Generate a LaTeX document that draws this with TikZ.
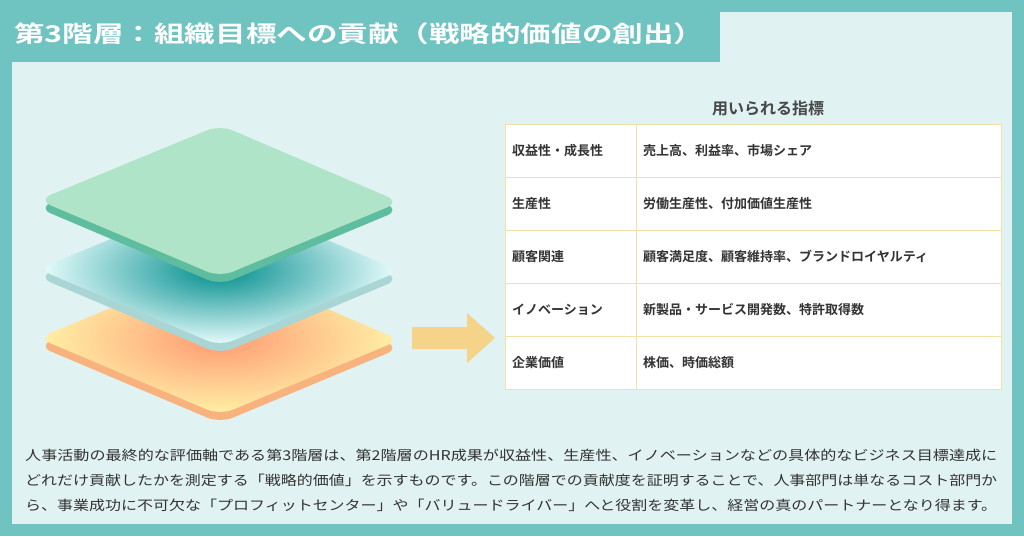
\documentclass[tikz,border=0pt]{standalone}
\usepackage{fontspec}
\usepackage{graphicx}
\newfontfamily\jp{Noto Sans CJK JP}
\newfontfamily\jpb{Noto Sans CJK JP Bold}
\definecolor{teal1}{HTML}{6FC3C1}
\definecolor{panel}{HTML}{E0F2F1}
\definecolor{tline}{HTML}{F5DFA8}
\definecolor{txt}{HTML}{333333}
\definecolor{arrowc}{HTML}{F5D48A}
\definecolor{gtop}{HTML}{B0E4C8}
\definecolor{gside}{HTML}{5DBD9E}
\definecolor{mside}{HTML}{A9D6D4}
\definecolor{oside}{HTML}{F7B27E}
\tikzset{
  cell/.style={anchor=west,font=\jpb\fontsize{13}{15}\selectfont,text=txt,inner sep=0},
  bodyline/.style={anchor=west,font=\jp\fontsize{13.5}{16}\selectfont,text=txt,inner sep=0},
}
\begin{document}
\begin{tikzpicture}[x=1pt,y=-1pt]
\fill[teal1] (0,0) rectangle (1024,536);
\fill[panel] (12,62) rectangle (1012,524);
\fill[panel] (720,12) rectangle (1012,62);
\node[anchor=west,text=white,inner sep=0,font=\jpb\fontsize{23}{26}\selectfont] (title) at (14,34) {\resizebox{690pt}{\height}{第3階層：組織目標への貢献（戦略的価値の創出）}};
% layers
\def\layer#1#2#3#4{%
  \fill[#2,rounded corners=14] (38,#1+8) -- (220,#1-67) -- (400,#1+10) -- (220,#1+85) -- cycle;
  \shade[inner color=#3,outer color=#4,rounded corners=14] (38,#1) -- (220,#1-75) -- (400,#1+2) -- (220,#1+77) -- cycle;}
\layer{338}{oside}{red!45!orange!55!white}{orange!30!yellow!35!white}
\layer{269}{mside}{teal!90!cyan}{gray!10!cyan!8!white}
\fill[gside,rounded corners=14] (38,208) -- (220,133) -- (400,210) -- (220,285) -- cycle;
\fill[gtop,rounded corners=14] (38,200) -- (220,125) -- (400,202) -- (220,277) -- cycle;
% arrow
\fill[arrowc] (412,327) -- (467,327) -- (467,313) -- (495,338) -- (467,363) -- (467,349) -- (412,349) -- cycle;
% table
\node[font=\jpb\fontsize{16}{18}\selectfont,text=txt!90] (hdr) at (768,108) {用いられる指標};
\fill[white] (505,124) rectangle (1001,389);
\draw[tline] (505,124) rectangle (1001,389);
\foreach \y in {177,230,283,336} \draw[tline] (505,\y) -- (1001,\y);
\draw[tline] (636,124) -- (636,389);
\node[cell] (a1) at (512,150.5) {収益性・成長性};
\node[cell] (b1) at (643,150.5) {売上高、利益率、市場シェア};
\node[cell] (a2) at (512,203.5) {生産性};
\node[cell] (b2) at (643,203.5) {労働生産性、付加価値生産性};
\node[cell] (a3) at (512,256.5) {顧客関連};
\node[cell] (b3) at (643,256.5) {顧客満足度、顧客維持率、ブランドロイヤルティ};
\node[cell] (a4) at (512,309.5) {イノベーション};
\node[cell] (b4) at (643,309.5) {新製品・サービス開発数、特許取得数};
\node[cell] (a5) at (512,362.5) {企業価値};
\node[cell] (b5) at (643,362.5) {株価、時価総額};
% body
\node[bodyline] (l1) at (25,455) {\resizebox{972pt}{\height}{人事活動の最終的な評価軸である第3階層は、第2階層のHR成果が収益性、生産性、イノベーションなどの具体的なビジネス目標達成に}};
\node[bodyline] (l2) at (25,480) {\resizebox{972pt}{\height}{どれだけ貢献したかを測定する「戦略的価値」を示すものです。この階層での貢献度を証明することで、人事部門は単なるコスト部門か}};
\node[bodyline] (l3) at (25,505) {\resizebox{972pt}{\height}{ら、事業成功に不可欠な「プロフィットセンター」や「バリュードライバー」へと役割を変革し、経営の真のパートナーとなり得ます。}};
\end{tikzpicture}
\end{document}
